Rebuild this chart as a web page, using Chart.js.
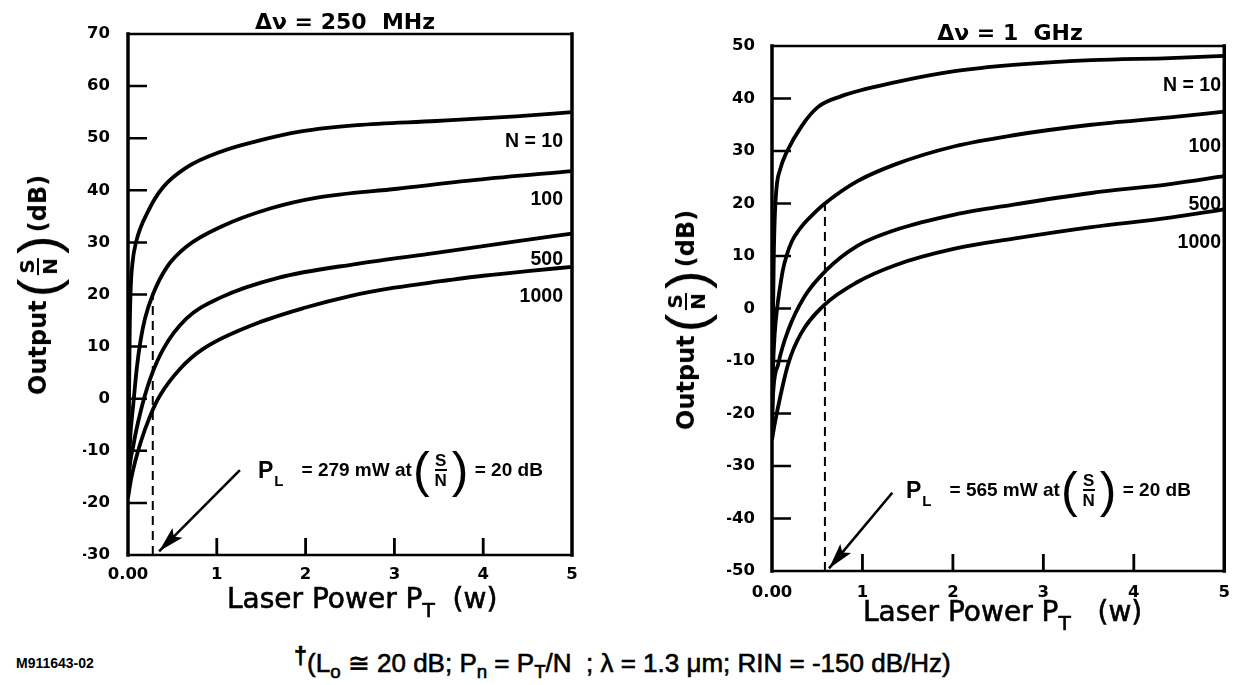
<!DOCTYPE html>
<html>
<head>
<meta charset="utf-8">
<script src="https://cdn.jsdelivr.net/npm/chart.js@4.4.1/dist/chart.umd.min.js"></script>
<style>
html, body { margin: 0; padding: 0; background: #fff; }
body { width: 1242px; height: 685px; position: relative; overflow: hidden; color: #000; font-family: "Liberation Sans", Arial, sans-serif; }
canvas { position: absolute; top: 0; }
#c250 { left: 0; }
#c1g { left: 620px; }
.t { position: absolute; white-space: nowrap; line-height: 1; }
.title { font: bold 22px "DejaVu Sans"; transform: translate(-50%, -50%); }
.xt { font: 28px "DejaVu Sans"; -webkit-text-stroke: 0.6px #000; transform: translateY(-50%); }
.xt sub { font-size: 0.72em; vertical-align: -0.45em; }
.nl { font: bold 19.5px "Liberation Sans"; transform: translateY(-50%); }
.ytitle { position: absolute; display: flex; align-items: center; gap: 3px; white-space: nowrap;
  font: bold 24px "DejaVu Sans"; transform: translate(-50%, -50%) rotate(-90deg); }
.fr { display: inline-flex; flex-direction: column; align-items: center; line-height: 1; }
.fr .bar { border-top: 2px solid #000; padding-top: 1px; }
.ytitle .fr { font-size: 20px; margin: 0 1px; }
.bp { font: 56px "Liberation Sans"; line-height: 1; }
.ann { position: absolute; display: flex; align-items: center; white-space: nowrap; font-weight: bold; transform: translateY(-50%); }
.ann .pl { font-size: 23px; }
.ann .pls { font-size: 15px; position: relative; top: 10px; margin-left: 1px; margin-right: 18px; }
.ann .at { font-size: 19px; }
.ann .bp2 { font: 50px "Liberation Sans"; line-height: 1; margin: 0 1px; }
.ann .fr { font-size: 17px; margin: 0 4px; }
.foot { font: 26px "Liberation Sans"; -webkit-text-stroke: 0.6px #000; transform: translateY(-50%); }
.foot sub { font-size: 0.72em; vertical-align: -0.35em; }
.dag { font-weight: bold; vertical-align: 0.35em; font-size: 0.9em; }
.code { font: bold 14px "Liberation Sans"; transform: translateY(-50%); }
</style>
</head>
<body>
<canvas id="c250" width="620" height="640"></canvas>
<canvas id="c1g" width="622" height="640"></canvas>

<div class="t title" style="left:345px;top:21px">Δν = 250&nbsp; MHz</div>
<div class="t title" style="left:1010px;top:32px">Δν = 1&nbsp; GHz</div>

<div class="ytitle" style="left:38px;top:285px">
  <span>Output</span>
  <span class="bp">(</span><span class="fr"><span>S</span><span class="bar">N</span></span><span class="bp">)</span>
  <span>(dB)</span>
</div>
<div class="ytitle" style="left:686px;top:320px">
  <span>Output</span>
  <span class="bp">(</span><span class="fr"><span>S</span><span class="bar">N</span></span><span class="bp">)</span>
  <span>(dB)</span>
</div>

<div class="t xt" style="left:227px;top:602px">Laser Power P<sub>T</sub>&nbsp;&nbsp;(w)</div>
<div class="t xt" style="left:863px;top:615px">Laser Power P<sub>T</sub>&nbsp;&nbsp;&nbsp;(w)</div>

<div class="t nl" style="right:679px;top:140px">N = 10</div>
<div class="t nl" style="right:679px;top:198px">100</div>
<div class="t nl" style="right:679px;top:258px">500</div>
<div class="t nl" style="right:679px;top:295px">1000</div>
<div class="t nl" style="right:21px;top:84px">N = 10</div>
<div class="t nl" style="right:21px;top:145px">100</div>
<div class="t nl" style="right:21px;top:203px">500</div>
<div class="t nl" style="right:21px;top:241px">1000</div>

<div class="ann" style="left:258px;top:470px">
  <span class="pl">P</span><span class="pls">L</span><span class="at">= 279 mW at</span><span class="bp2">(</span><span class="fr"><span>S</span><span class="bar">N</span></span><span class="bp2">)</span><span class="at">&nbsp;= 20 dB</span>
</div>
<div class="ann" style="left:906px;top:490px">
  <span class="pl">P</span><span class="pls">L</span><span class="at">= 565 mW at</span><span class="bp2">(</span><span class="fr"><span>S</span><span class="bar">N</span></span><span class="bp2">)</span><span class="at">&nbsp;= 20 dB</span>
</div>

<div class="t code" style="left:16px;top:663px">M911643-02</div>
<div class="t foot" style="left:294px;top:663px"><span class="dag">†</span>(L<sub>o</sub> ≅ 20 dB; P<sub>n</sub> = P<sub>T</sub>/N&nbsp; ; λ = 1.3 μm; RIN = -150 dB/Hz)</div>

<script>
// laser power P_T (W) and output S/N (dB)

// Δν = 250 MHz
const pw250_n10   = [0, 0.008, 0.014, 0.02, 0.03, 0.05, 0.09, 0.23, 0.39, 0.66, 1.06, 1.42, 1.95, 2.58, 3.47, 4.37, 5];
const sn250_n10   = [-19, -8, 4, 14, 21, 26, 30, 36.1, 40.5, 44.4, 47.5, 49.3, 51.3, 52.5, 53.3, 54.2, 55];
const pw250_n100  = [0, 0.02, 0.06, 0.10, 0.14, 0.19, 0.28, 0.44, 0.66, 1.06, 1.6, 2.13, 3.03, 3.92, 5];
const sn250_n100  = [-19, -9, -1, 6, 11, 15.3, 20, 25.3, 29.2, 33.1, 36.5, 38.6, 40.3, 42, 43.7];
const pw250_n500  = [0, 0.01, 0.06, 0.14, 0.25, 0.40, 0.66, 1.04, 1.69, 2.58, 3.47, 4.37, 5];
const sn250_n500  = [-19, -15, -9, -2.6, 3.8, 9.6, 15.4, 19.4, 23.2, 25.9, 28, 30.2, 31.7];
const pw250_n1000 = [0, 0.04, 0.14, 0.25, 0.36, 0.59, 0.85, 1.41, 2.0, 2.5, 3.0, 3.5, 4.0, 4.5, 5];
const sn250_n1000 = [-19, -15, -8.5, -3.3, 0.6, 5.8, 9.6, 14.2, 17.5, 19.7, 21.3, 22.5, 23.6, 24.5, 25.3];

// Δν = 1 GHz
const pw1g_n10   = [0, 0.005, 0.01, 0.02, 0.03, 0.05, 0.09, 0.16, 0.33, 0.51, 0.76, 1.37, 2.02, 2.67, 3.53, 4.4, 5];
const sn1g_n10   = [-25, -14, -3, 10, 17, 23, 26.5, 29.7, 34.8, 38.4, 40.4, 43.1, 45.2, 46.4, 47.3, 47.7, 48.1];
const pw1g_n100  = [0, 0.01, 0.03, 0.06, 0.09, 0.12, 0.16, 0.22, 0.30, 0.36, 0.45, 0.585, 0.94, 1.37, 2.02, 2.67, 3.53, 4.4, 5];
const sn1g_n100  = [-22, -12.4, -4.8, 0.5, 4.2, 7.3, 10, 12.8, 15, 16.3, 17.9, 20, 24.2, 27.5, 30.9, 33, 35, 36.4, 37.5];
const pw1g_n500  = [0, 0.01, 0.07, 0.18, 0.36, 0.6, 0.94, 1.37, 2.02, 2.67, 3.53, 4.4, 5];
const sn1g_n500  = [-22, -16.9, -10.5, -4.1, 2.3, 7.3, 11.9, 15.0, 17.9, 19.8, 22, 23.7, 25.2];
const pw1g_n1000 = [0, 0.03, 0.09, 0.18, 0.32, 0.58, 0.94, 1.37, 2.02, 2.67, 3.53, 4.4, 5];
const sn1g_n1000 = [-25, -22, -16.9, -10.5, -4.8, 0.7, 5.0, 8.3, 11.4, 13.3, 15.5, 17.3, 18.9];

// P_L markers (dashed line up to 20 dB) and arrows [x0, y0, x1, y1]
const pl250 = 0.279;
const pl1g = 0.585;
const arrow250 = [1.26, -13.7, 0.35, -29.3];
const arrow1g = [1.33, -35.1, 0.63, -49.5];

// tick labels and inner tick marks
const xTickLabels = ['0.00', '1', '2', '3', '4', '5'];
const xInnerTicks = [1, 2, 3, 4];
const yInnerTicks250 = [60, 50, 40, 30, 20, 10, 0, -10, -20];
const yInnerTicks1g = [40, 30, 20, 10, 0, -10, -20, -30, -40];

const toPts = (xs, ys) => xs.map((x, i) => ({ x: x, y: ys[i] }));

// box round the plot and the short ticks pointing inwards
const framePlugin = {
  id: 'frame',
  afterDatasetsDraw(chart, args, opts) {
    const { ctx, chartArea: a, scales } = chart;
    ctx.save();
    ctx.strokeStyle = '#000';
    ctx.lineCap = 'square';
    ctx.lineWidth = 2.5;
    ctx.beginPath();
    ctx.moveTo(a.left, a.top); ctx.lineTo(a.right, a.top);
    ctx.moveTo(a.left, a.bottom); ctx.lineTo(a.right, a.bottom);
    ctx.stroke();
    ctx.lineWidth = 3.5;
    ctx.beginPath();
    ctx.moveTo(a.left, a.top); ctx.lineTo(a.left, a.bottom);
    ctx.moveTo(a.right, a.top); ctx.lineTo(a.right, a.bottom);
    ctx.stroke();
    ctx.lineWidth = 2.5;
    ctx.lineCap = 'butt';
    ctx.beginPath();
    opts.yTicks.forEach(v => {
      const py = scales.y.getPixelForValue(v);
      ctx.moveTo(a.left, py); ctx.lineTo(a.left + opts.yLen, py);
    });
    ctx.stroke();
    ctx.lineWidth = 2.8;
    ctx.beginPath();
    opts.xTicks.forEach(v => {
      const px = scales.x.getPixelForValue(v);
      ctx.moveTo(px, a.bottom); ctx.lineTo(px, a.bottom - opts.xLen);
    });
    ctx.stroke();
    ctx.restore();
  }
};

// head on the end of every dataset flagged as arrow
const arrowPlugin = {
  id: 'arrowHead',
  afterDatasetsDraw(chart) {
    const ctx = chart.ctx;
    chart.data.datasets.forEach((ds, i) => {
      if (!ds.arrow) return;
      const pts = chart.getDatasetMeta(i).data;
      const a = pts[0], b = pts[1];
      const ang = Math.atan2(b.y - a.y, b.x - a.x);
      const len = 26, half = 7;
      ctx.save();
      ctx.translate(b.x, b.y);
      ctx.rotate(ang);
      ctx.fillStyle = '#000';
      ctx.beginPath();
      ctx.moveTo(0, 0);
      ctx.lineTo(-len, -half);
      ctx.lineTo(-len * 0.8, 0);
      ctx.lineTo(-len, half);
      ctx.closePath();
      ctx.fill();
      ctx.restore();
    });
  }
};

const tickFont = { family: 'DejaVu Sans', size: 16.5, weight: 'bold' };

function makeChart(id, curves, pl, arrow, yMin, yMax, yTicks, pad, yPad, xPad) {
  const datasets = curves.map(c => ({
    data: toPts(c[0], c[1]),
    borderColor: '#000',
    borderWidth: 3.8,
    pointRadius: 0,
    cubicInterpolationMode: 'monotone'
  }));
  datasets.push({
    data: [{ x: pl, y: yMin }, { x: pl, y: 20 }],
    borderColor: '#000', borderWidth: 2, borderDash: [9, 6], pointRadius: 0
  });
  datasets.push({
    data: [{ x: arrow[0], y: arrow[1] }, { x: arrow[2], y: arrow[3] }],
    borderColor: '#000', borderWidth: 2.6, pointRadius: 0, arrow: true
  });

  return new Chart(document.getElementById(id), {
    type: 'line',
    data: { datasets: datasets },
    plugins: [framePlugin, arrowPlugin],
    options: {
      responsive: false,
      animation: false,
      devicePixelRatio: 1,
      layout: { padding: pad },
      plugins: {
        legend: { display: false },
        tooltip: { enabled: false },
        frame: { yTicks: yTicks, xTicks: xInnerTicks, yLen: 19, xLen: 17 }
      },
      scales: {
        x: {
          type: 'linear', min: 0, max: 5,
          grid: { display: false, drawTicks: false },
          border: { display: false },
          ticks: {
            stepSize: 1, autoSkip: false, maxRotation: 0, padding: xPad,
            color: '#000', font: tickFont,
            callback: v => xTickLabels[Math.round(v)]
          },
          afterFit: s => { s.height = 30; }
        },
        y: {
          min: yMin, max: yMax,
          grid: { display: false, drawTicks: false },
          border: { display: false },
          ticks: { stepSize: 10, autoSkip: false, padding: yPad, color: '#000', font: tickFont },
          afterFit: s => { s.width = 45; }
        }
      }
    }
  });
}

makeChart('c250',
  [[pw250_n10, sn250_n10], [pw250_n100, sn250_n100], [pw250_n500, sn250_n500], [pw250_n1000, sn250_n1000]],
  pl250, arrow250, -30, 70, yInnerTicks250,
  { left: 83, top: 34, right: 48, bottom: 55 }, 18, 10);

makeChart('c1g',
  [[pw1g_n10, sn1g_n10], [pw1g_n100, sn1g_n100], [pw1g_n500, sn1g_n500], [pw1g_n1000, sn1g_n1000]],
  pl1g, arrow1g, -50, 50, yInnerTicks1g,
  { left: 107, top: 46, right: 11, bottom: 39 }, 17, 12);
</script>
</body>
</html>
